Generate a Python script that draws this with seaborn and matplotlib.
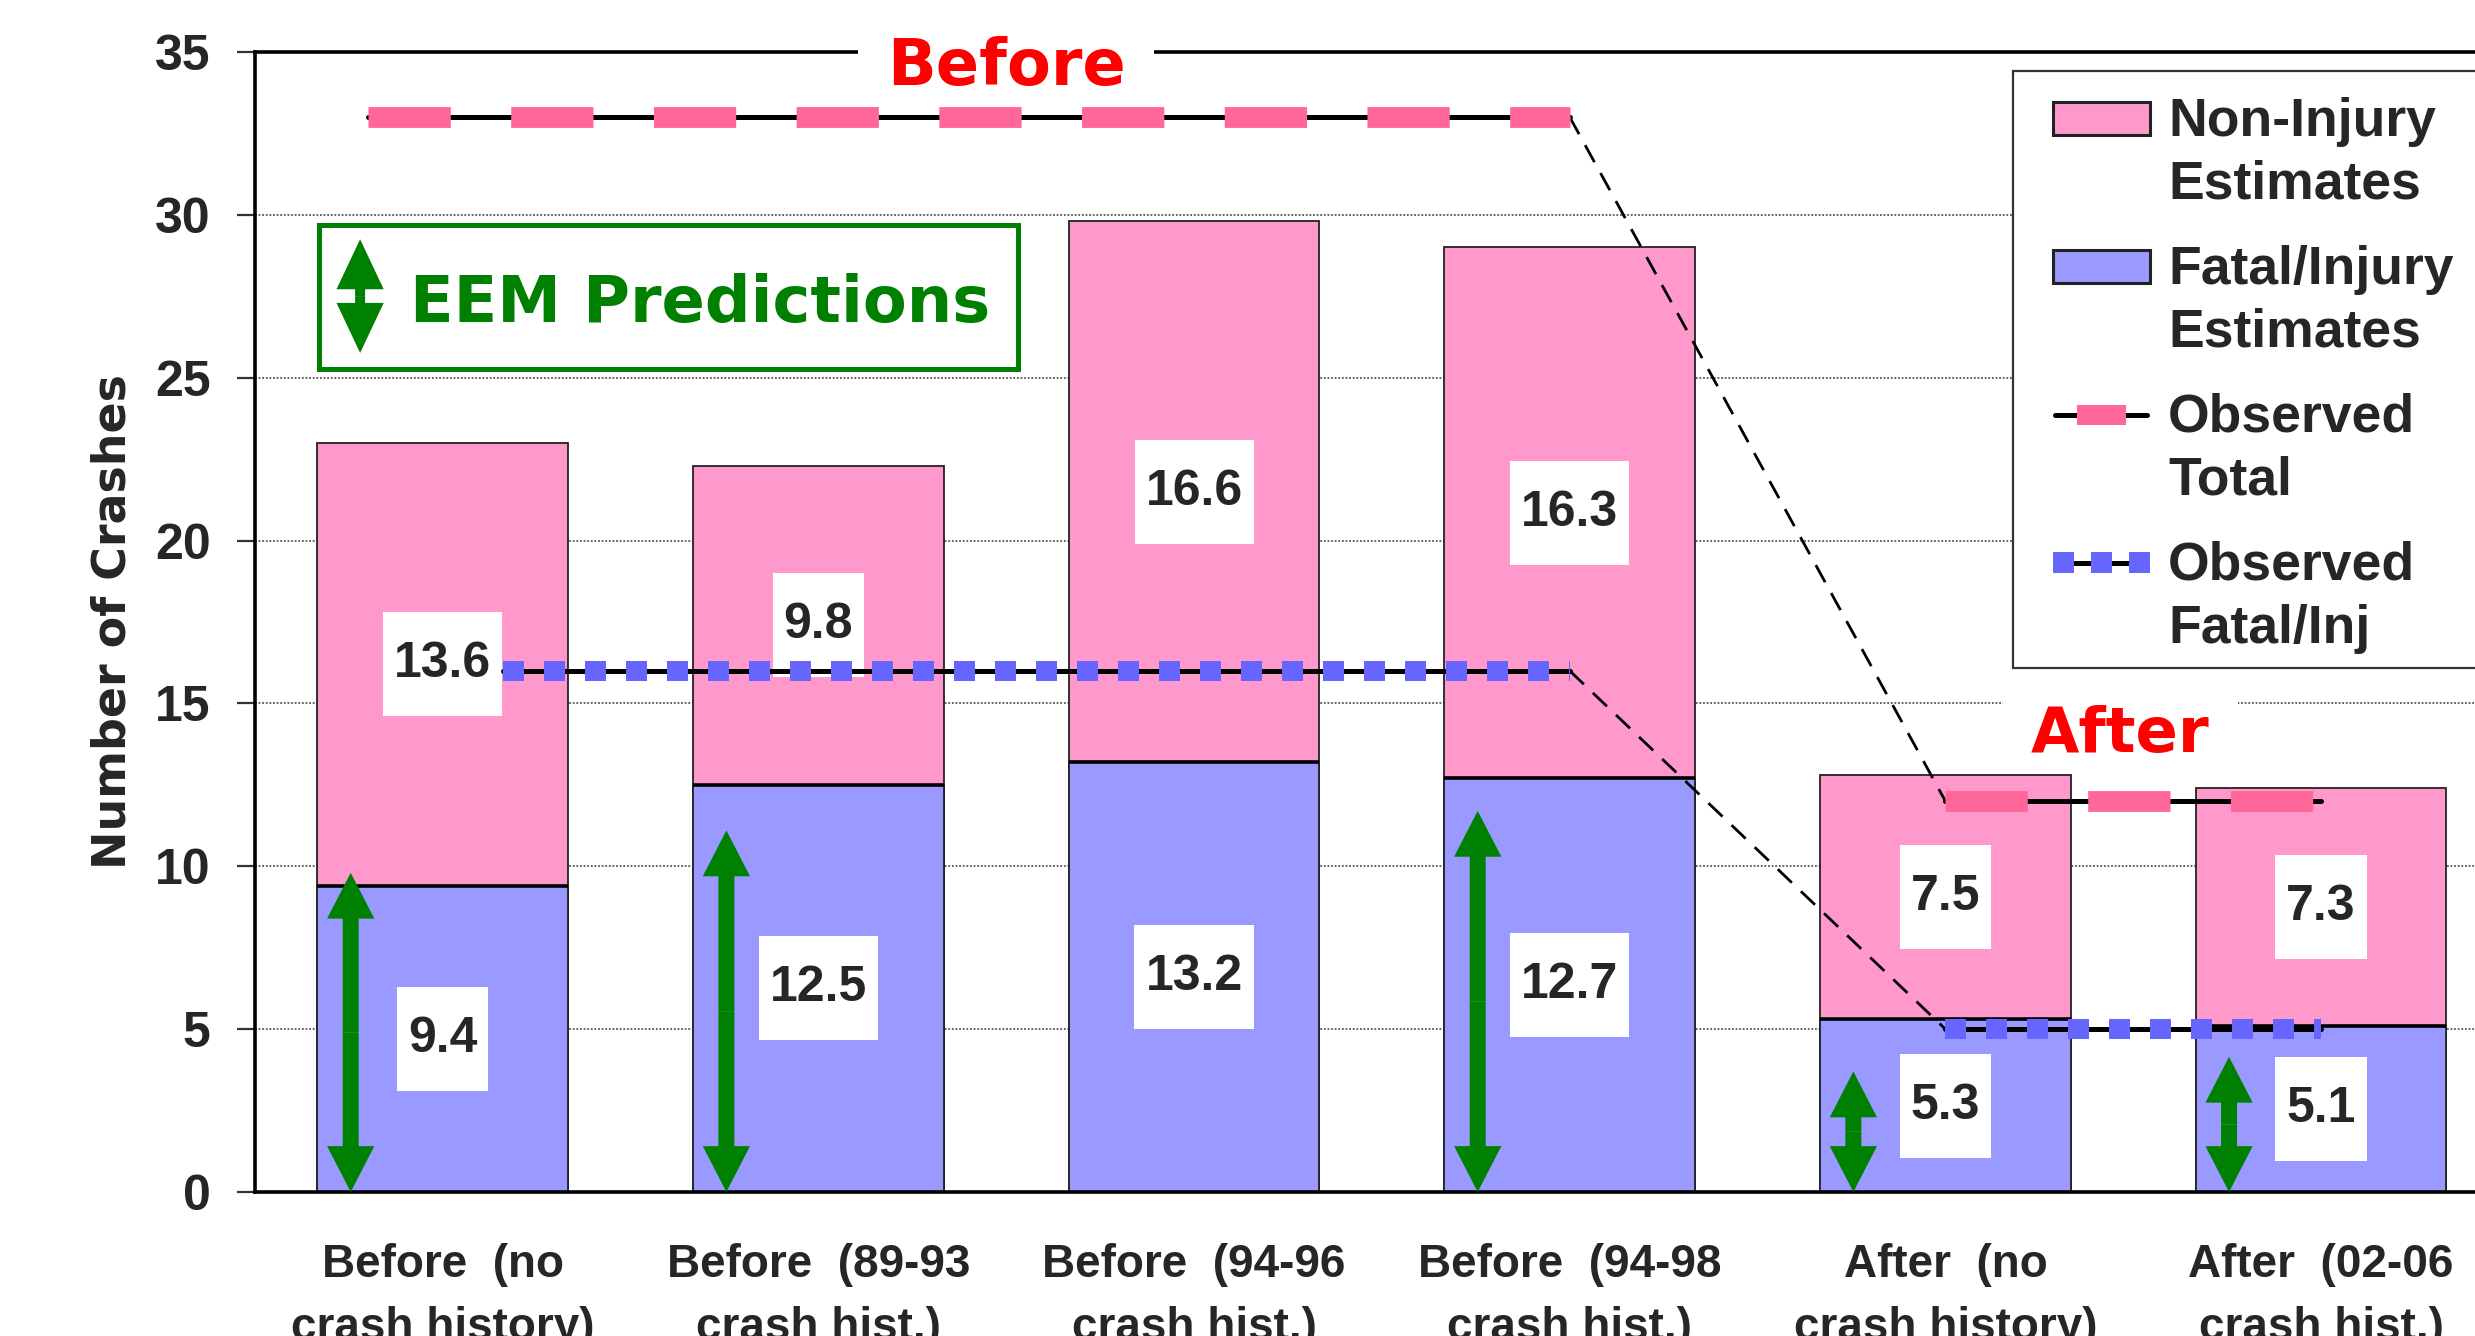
import matplotlib
matplotlib.use("Agg")
import matplotlib.pyplot as plt
import seaborn as sns
import pandas as pd
from matplotlib.patches import Rectangle, Patch, FancyArrowPatch
from matplotlib.lines import Line2D
from matplotlib.path import Path
from matplotlib.legend_handler import HandlerBase

# ---- data -------------------------------------------------------------
categories = [
    "Before  (no\ncrash history)",
    "Before  (89-93\ncrash hist.)",
    "Before  (94-96\ncrash hist.)",
    "Before  (94-98\ncrash hist.)",
    "After  (no\ncrash history)",
    "After  (02-06\ncrash hist.)",
]
fatal_injury = [9.4, 12.5, 13.2, 12.7, 5.3, 5.1]
non_injury = [13.6, 9.8, 16.6, 16.3, 7.5, 7.3]
eem_predictions = [9.8, 11.1, None, 11.7, 3.7, 4.15]

obs_total_before_x = [-0.2, 3.0]
obs_total_before = [33.0, 33.0]
obs_total_after_x = [4.0, 5.0]
obs_total_after = [12.0, 12.0]
obs_fatal_before_x = [0.16, 3.0]
obs_fatal_before = [16.0, 16.0]
obs_fatal_after_x = [4.0, 5.0]
obs_fatal_after = [5.0, 5.0]

y_ticks = [0, 5, 10, 15, 20, 25, 30, 35]

# ---- style ------------------------------------------------------------
PINK = "#FF99CC"
BLUE = "#9999FF"
PINK_DARK = "#FF6699"
BLUE_DARK = "#6666FF"
GREEN = "#008000"

sns.set_style("white")
plt.rcParams["font.family"] = ["Liberation Sans", "DejaVu Sans"]
plt.rcParams["font.weight"] = "bold"

df = pd.DataFrame({
    "category": categories,
    "fatal": fatal_injury,
    "total": [f + n for f, n in zip(fatal_injury, non_injury)],
})

fig = plt.figure(figsize=(24.75, 13.36), dpi=100)
ax = fig.add_axes([0.1030, 0.1078, 0.9107, 0.8533])

sns.barplot(data=df, x="category", y="total", color=PINK, saturation=1,
            width=0.667, edgecolor="#222222", linewidth=1.3, errorbar=None,
            ax=ax, zorder=2)
sns.barplot(data=df, x="category", y="fatal", color=BLUE, saturation=1,
            width=0.667, edgecolor="#222222", linewidth=1.3, errorbar=None,
            ax=ax, zorder=2)

# thick boundary between the two stacked segments
for p in ax.containers[1]:
    ax.plot([p.get_x(), p.get_x() + p.get_width()], [p.get_height()] * 2,
            color="black", lw=2.6, solid_capstyle="butt", zorder=3)

ax.set_xlim(-0.5, 5.5)
ax.set_ylim(0, 35)
ax.set_yticks(y_ticks)
ax.set_xlabel("")
ax.set_ylabel("Number of Crashes", fontsize=33, fontfamily="DejaVu Sans",
              fontweight="bold")
ax.yaxis.set_label_coords(-0.053, 0.5)

ax.yaxis.grid(True, linestyle=(0, (1, 1)), color="#555555", lw=1.3)
ax.xaxis.grid(False)
ax.set_axisbelow(True)

for side in ("top", "left", "bottom", "right"):
    ax.spines[side].set_color("black")
    ax.spines[side].set_linewidth(2.6)

ax.tick_params(axis="y", length=13, width=1.6, color="#333333", pad=19,
               labelsize=36, left=True)
ax.tick_params(axis="x", length=0, pad=37, labelsize=33)
for t in ax.get_xticklabels():
    t.set_linespacing(1.55)
    t.set_fontweight("bold")
for t in ax.get_yticklabels():
    t.set_fontweight("bold")


# ---- value labels ------------------------------------------------------
def label_box(x0, y0, width, height, mutation_size):
    """White box, narrow at the sides and tall above and below the text."""
    px, py = 0.22 * mutation_size, 0.58 * mutation_size
    x0, y0 = x0 - px, y0 - py
    x1, y1 = x0 + width + 2 * px, y0 + height + 2 * py
    return Path([(x0, y0), (x1, y0), (x1, y1), (x0, y1), (x0, y0)],
                closed=True)


box = dict(boxstyle=label_box, fc="white", ec="none")
for i, (f, n) in enumerate(zip(fatal_injury, non_injury)):
    ax.text(i, f / 2, f"{f:.1f}", ha="center", va="center", fontsize=36,
            fontweight="bold", bbox=box, zorder=5)
    ax.text(i, f + n / 2, f"{n:.1f}", ha="center", va="center", fontsize=36,
            fontweight="bold", bbox=box, zorder=5)


# ---- observed lines ----------------------------------------------------
def observed(xs, ys, color, dash, width):
    ax.plot(xs, ys, color="black", lw=3.6, solid_capstyle="round", zorder=6)
    ax.plot(xs, ys, color=color, lw=width, linestyle=(0, dash),
            dash_capstyle="butt", zorder=6)


observed(obs_total_before_x, obs_total_before, PINK_DARK, (3.95, 2.9), 15)
observed(obs_total_after_x, obs_total_after, PINK_DARK, (3.95, 2.9), 15)
observed(obs_fatal_before_x, obs_fatal_before, BLUE_DARK, (1.05, 1.0), 14.4)
observed(obs_fatal_after_x, obs_fatal_after, BLUE_DARK, (1.05, 1.0), 14.4)

# dashed links from the before levels to the after levels
ax.plot([obs_total_before_x[-1], obs_total_after_x[0]],
        [obs_total_before[-1], obs_total_after[0]],
        color="black", lw=2.0, linestyle=(0, (7, 4.5)), zorder=4)
ax.plot([obs_fatal_before_x[-1], obs_fatal_after_x[0]],
        [obs_fatal_before[-1], obs_fatal_after[0]],
        color="black", lw=2.0, linestyle=(0, (7, 4.5)), zorder=4)


# ---- EEM prediction arrows --------------------------------------------
def double_arrow(x, y0, y1, tail, head_w, head_len, z=4):
    mid = (y0 + y1) / 2
    for end in (y0, y1):
        ax.add_patch(FancyArrowPatch(
            (x, mid), (x, end),
            arrowstyle=f"simple,head_length={head_len},head_width={head_w},"
                       f"tail_width={tail}",
            mutation_scale=1, color=GREEN, lw=0, shrinkA=0, shrinkB=0,
            zorder=z))


for i, v in enumerate(eem_predictions):
    if v is not None:
        double_arrow(i - 0.245, 0, v, 11.5, 34, 33)

# key box for the arrows
ax.add_patch(Rectangle((-0.33, 25.27), 1.86, 4.43, fc="white", ec=GREEN,
                       lw=3.6, zorder=3))
double_arrow(-0.22, 25.76, 29.25, 7.2, 34, 36, z=4)
ax.text(-0.087, 26.71, "EEM Predictions", ha="left", va="baseline",
        fontsize=46, color=GREEN, fontfamily="DejaVu Sans",
        fontweight="bold", zorder=4)

# period headers
ax.text(1.5, 34.0, "Before", ha="center", va="baseline", fontsize=46,
        color="red", fontfamily="DejaVu Sans", fontweight="bold",
        bbox=dict(boxstyle="square,pad=0.45", fc="white", ec="none"),
        zorder=5.5, clip_on=False)
ax.text(4.465, 13.5, "After", ha="center", va="baseline", fontsize=45,
        color="red", fontfamily="DejaVu Sans", fontweight="bold",
        bbox=dict(boxstyle="square,pad=0.45", fc="white", ec="none"),
        zorder=1.5)

# ---- legend ------------------------------------------------------------
LIFT = 25.5  # points: handles sit beside the first line of each label
FRAME_LEFT = 14     # px of extra frame on the left side
FRAME_BOTTOM = 12   # px trimmed from the bottom of the frame


class RaisedPatch(HandlerBase):
    def create_artists(self, legend, orig, xd, yd, w, h, fs, trans):
        cy = -yd + h / 2 + LIFT
        r = Rectangle((-xd, cy - 12), w, 24, facecolor=orig.get_facecolor(),
                      edgecolor="#222222", lw=2.2, transform=trans)
        return [r]


class RaisedObsLine(HandlerBase):
    def __init__(self, color, n_marks, mark_w, mark_h):
        super().__init__()
        self.color = color
        self.n_marks = n_marks
        self.mark_w = mark_w
        self.mark_h = mark_h

    def create_artists(self, legend, orig, xd, yd, w, h, fs, trans):
        cy = -yd + h / 2 + LIFT
        arts = [Line2D([-xd + 2, -xd + w - 2], [cy, cy], color="black",
                       lw=3.6, solid_capstyle="round", transform=trans)]
        if self.n_marks == 1:
            centers = [-xd + w / 2]
        else:
            step = (w - self.mark_w) / (self.n_marks - 1)
            centers = [-xd + self.mark_w / 2 + k * step
                       for k in range(self.n_marks)]
        for c in centers:
            arts.append(Rectangle((c - self.mark_w / 2, cy - self.mark_h / 2),
                                  self.mark_w, self.mark_h, fc=self.color,
                                  ec="none", transform=trans))
        return arts


def legend_frame(x0, y0, width, height, mutation_size):
    x0 -= FRAME_LEFT
    width += FRAME_LEFT
    y0 += FRAME_BOTTOM
    height -= FRAME_BOTTOM
    x1, y1 = x0 + width, y0 + height
    return Path([(x0, y0), (x1, y0), (x1, y1), (x0, y1), (x0, y0)],
                closed=True)


h_non = Patch(facecolor=PINK)
h_fat = Patch(facecolor=BLUE)
h_tot = Line2D([], [])
h_fi = Line2D([], [])
leg = ax.legend(
    [h_non, h_fat, h_tot, h_fi],
    ["Non-Injury\nEstimates", "Fatal/Injury\nEstimates",
     "Observed\nTotal", "Observed\nFatal/Inj"],
    handler_map={h_non: RaisedPatch(), h_fat: RaisedPatch(),
                 h_tot: RaisedObsLine(PINK_DARK, 1, 35.3, 14.4),
                 h_fi: RaisedObsLine(BLUE_DARK, 3, 15, 15)},
    loc="upper left",
    bbox_to_anchor=((2013 + FRAME_LEFT) / 2475, 1 - 71 / 1336),
    bbox_transform=fig.transFigure, borderaxespad=0,
    prop={"family": "Liberation Sans", "weight": "bold", "size": 38.5},
    handlelength=1.82, handletextpad=0.34, borderpad=0.48,
    labelspacing=0.65, fancybox=False, framealpha=1, edgecolor="#333333",
)
leg.get_frame().set_boxstyle(legend_frame)
leg.get_frame().set_linewidth(1.6)
leg.set_zorder(8)
for t in leg.get_texts():
    t.set_linespacing(1.34)

fig.savefig("out.png", dpi=100)
